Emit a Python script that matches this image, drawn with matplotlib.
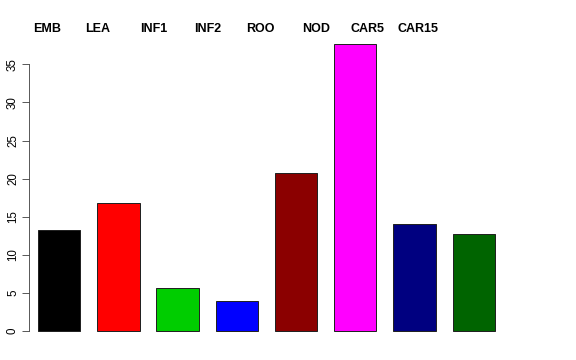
import matplotlib
matplotlib.use("Agg")
import matplotlib.pyplot as plt
import numpy as np

plt.rcParams['font.family'] = ['Liberation Sans', 'DejaVu Sans']

# data
tissues = ['EMB', 'LEA', 'INF1', 'INF2', 'ROO', 'NOD', 'CAR5', 'CAR15']
values = [13.2, 16.8, 5.6, 4.0, 20.8, 37.7, 14.1, 12.7]
bar_colors = ['black', 'red', '#00CD00', 'blue', '#8B0000', 'magenta', '#000080', '#006400']
yticks = [0, 5, 10, 15, 20, 25, 30, 35]

# layout: label centres in figure pixels (labels are not centred on bars)
label_px = [46.7, 97.5, 153.3, 207.7, 260.8, 315.8, 367.8, 417.5]

W, H = 576, 360
fig = plt.figure(figsize=(W / 72, H / 72), dpi=72)

space = 0.4
lefts = space + np.arange(len(values)) * (1 + space)
centers = lefts + 0.5

px_unit = 42.3
x0 = lefts[0] - 9 / px_unit
x1 = lefts[-1] + 1 + 9 / px_unit
ax_left = 29
ax_w = (x1 - x0) * px_unit

ypx = 7.62
y0, y1 = -1.5, 39.2
ax_bottom = 331 + (-y0) * ypx
ax_top = 331 - y1 * ypx
ax = fig.add_axes([ax_left / W, (H - ax_bottom) / H, ax_w / W, (ax_bottom - ax_top) / H])

ax.bar(centers, values, width=1.0, color=bar_colors, edgecolor='#222222', linewidth=1.0)
ax.set_xlim(x0, x1)
ax.set_ylim(y0, y1)

for s in ['top', 'right', 'bottom']:
    ax.spines[s].set_visible(False)
ax.spines['left'].set_bounds(0, 35)
ax.spines['left'].set_color('#333333')
ax.set_xticks([])
ax.set_yticks(yticks)
ax.set_yticklabels([str(t) for t in yticks], rotation=90, va='center', fontsize=11.5)
ax.tick_params(axis='y', length=7, pad=3, color='#333333')

for name, xp in zip(tissues, label_px):
    fig.text(xp / W, 1 - 29.3 / H, name, ha='center', va='center',
             fontsize=12.5, fontweight='bold')

fig.savefig('out.png', dpi=72)
